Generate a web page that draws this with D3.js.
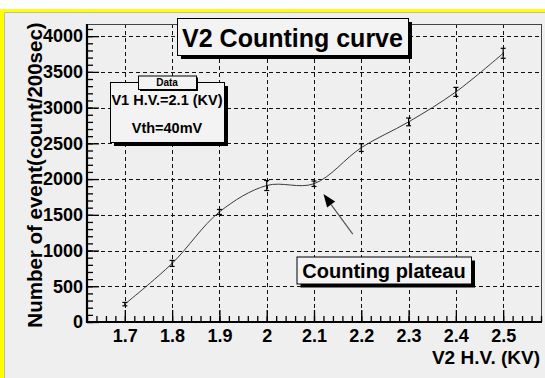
<!DOCTYPE html>
<html>
<head>
<meta charset="utf-8">
<script src="https://cdn.jsdelivr.net/npm/d3@7"></script>
<style>
  html, body { margin: 0; padding: 0; background: #ffffff; }
  svg { display: block; }
  text { font-family: "Liberation Sans", Arial, Helvetica, sans-serif; font-weight: bold; fill: #000; }
</style>
</head>
<body>
<script>
// V2 high voltage (kV) and counts measured over 200 s
const voltages = [1.7, 1.8, 1.9, 2.0, 2.1, 2.2, 2.3, 2.4, 2.5];
const counts   = [250, 820, 1540, 1910, 1935, 2440, 2800, 3220, 3760];
const errors   = [24, 42, 35, 70, 38, 54, 54, 63, 70];

const xTicks = [1.7, 1.8, 1.9, 2.0, 2.1, 2.2, 2.3, 2.4, 2.5];
const xTickLabels = ["1.7", "1.8", "1.9", "2", "2.1", "2.2", "2.3", "2.4", "2.5"];
const yTicks = [0, 500, 1000, 1500, 2000, 2500, 3000, 3500, 4000];

const titleText = "V2 Counting curve";
const xTitle = "V2 H.V. (KV)";
const yTitle = "Number of event(count/200sec)";
const paveHeader = "Data";
const paveLines = ["V1 H.V.=2.1 (KV)", "Vth=40mV"];
const noteText = "Counting plateau";
// arrow from the note towards the plateau, in data units [x, y]
const arrowFrom = [2.182, 1230];
const arrowTo = [2.12, 1790];

const W = 545, H = 378;
const frame = { left: 87, right: 541, top: 24, bottom: 322 };

const svg = d3.select("body").append("svg").attr("width", W).attr("height", H);

// canvas background with yellow border strip
svg.append("rect").attr("width", W).attr("height", H).attr("fill", "#ffffff");
svg.append("rect").attr("x", 0).attr("y", 9).attr("width", W).attr("height", H - 9).attr("fill", "#efefef");
svg.append("rect").attr("x", 0).attr("y", 9).attr("width", W).attr("height", 3.5).attr("fill", "#ffff00");
svg.append("rect").attr("x", 0).attr("y", 9).attr("width", 4).attr("height", H - 9).attr("fill", "#ffff00");
svg.append("line").attr("x1", 4.5).attr("x2", 4.5).attr("y1", 12.5).attr("y2", H).attr("stroke", "#bbb");
svg.append("line").attr("x1", 4.5).attr("x2", W).attr("y1", 12.5).attr("y2", 12.5).attr("stroke", "#bbb");

const x = d3.scaleLinear().domain([1.62, 2.58]).range([frame.left, frame.right]);
const y = d3.scaleLinear().domain([0, 4170]).range([frame.bottom, frame.top]);

// dashed grid
const grid = svg.append("g").attr("stroke", "#111").attr("stroke-width", 1).attr("stroke-dasharray", "4,3");
grid.selectAll(".gx").data(xTicks).join("line")
  .attr("x1", d => Math.round(x(d)) + 0.5).attr("x2", d => Math.round(x(d)) + 0.5)
  .attr("y1", frame.top).attr("y2", frame.bottom);
grid.selectAll(".gy").data(yTicks.filter(d => d > 0)).join("line")
  .attr("x1", frame.left).attr("x2", frame.right)
  .attr("y1", d => Math.round(y(d)) + 0.5).attr("y2", d => Math.round(y(d)) + 0.5);

// thin frame on top and right
svg.append("line").attr("x1", frame.left).attr("x2", frame.right + 0.5)
  .attr("y1", frame.top + 0.5).attr("y2", frame.top + 0.5).attr("stroke", "#444");
svg.append("line").attr("x1", frame.right + 0.5).attr("x2", frame.right + 0.5)
  .attr("y1", frame.top).attr("y2", frame.bottom).attr("stroke", "#444");

// y axis: major and minor ticks pointing inwards
const yMinor = d3.axisLeft(y).tickValues(d3.range(0, 4170, 100)).tickSizeInner(-6).tickSizeOuter(0).tickFormat("");
const yMajor = d3.axisLeft(y).tickValues(yTicks).tickSizeInner(-12).tickSizeOuter(0).tickPadding(4).tickFormat(d3.format("d"));
const gyMin = svg.append("g").attr("transform", `translate(${frame.left},0)`).call(yMinor);
const gy = svg.append("g").attr("transform", `translate(${frame.left},0)`).call(yMajor);
[gyMin, gy].forEach(g => {
  g.select(".domain").remove();
  g.selectAll("line").attr("stroke", "#000").attr("stroke-width", 1.3);
});
gy.selectAll("text").attr("font-size", 18).attr("font-family", "Liberation Sans, Arial, sans-serif").attr("font-weight", "bold");

// x axis: major and minor ticks pointing inwards
const xMinor = d3.axisBottom(x).tickValues(d3.range(1.62, 2.581, 0.02)).tickSizeInner(-6).tickSizeOuter(0).tickFormat("");
const xMajor = d3.axisBottom(x).tickValues(xTicks).tickSizeInner(-12).tickSizeOuter(0).tickPadding(7)
  .tickFormat((d, i) => xTickLabels[i]);
const gxMin = svg.append("g").attr("transform", `translate(0,${frame.bottom})`).call(xMinor);
const gx = svg.append("g").attr("transform", `translate(0,${frame.bottom})`).call(xMajor);
[gxMin, gx].forEach(g => {
  g.select(".domain").remove();
  g.selectAll("line").attr("stroke", "#000").attr("stroke-width", 1.3);
});
gx.selectAll("text").attr("font-size", 18).attr("font-family", "Liberation Sans, Arial, sans-serif").attr("font-weight", "bold");

// axis lines (thick)
svg.append("line").attr("x1", frame.left).attr("x2", frame.left).attr("y1", frame.top).attr("y2", frame.bottom + 1)
  .attr("stroke", "#000").attr("stroke-width", 2.2);
svg.append("line").attr("x1", frame.left - 1).attr("x2", frame.right + 1).attr("y1", frame.bottom).attr("y2", frame.bottom)
  .attr("stroke", "#000").attr("stroke-width", 2.2);

// smooth curve through the measurements
const pts = voltages.map((v, i) => ({ v, c: counts[i], e: errors[i] }));
svg.append("path").datum(pts)
  .attr("fill", "none").attr("stroke", "#3a3a3a").attr("stroke-width", 1)
  .attr("d", d3.line().x(d => x(d.v)).y(d => y(d.c)).curve(d3.curveCatmullRom.alpha(0.5)));

// error bars
const eb = svg.append("g").attr("stroke", "#000").attr("stroke-width", 1.2);
eb.selectAll(".v").data(pts).join("line")
  .attr("x1", d => x(d.v)).attr("x2", d => x(d.v))
  .attr("y1", d => y(d.c - d.e)).attr("y2", d => y(d.c + d.e));
eb.selectAll(".t").data(pts).join("line")
  .attr("x1", d => x(d.v) - 2.5).attr("x2", d => x(d.v) + 2.5)
  .attr("y1", d => y(d.c + d.e)).attr("y2", d => y(d.c + d.e));
eb.selectAll(".b").data(pts).join("line")
  .attr("x1", d => x(d.v) - 2.5).attr("x2", d => x(d.v) + 2.5)
  .attr("y1", d => y(d.c - d.e)).attr("y2", d => y(d.c - d.e));

// box with drop shadow
function shadowBox(x0, y0, w, h, off) {
  svg.append("rect").attr("x", x0 + off).attr("y", y0 + off).attr("width", w).attr("height", h).attr("fill", "#000");
  svg.append("rect").attr("x", x0 + 0.5).attr("y", y0 + 0.5).attr("width", w).attr("height", h)
    .attr("fill", "#f3f3f3").attr("stroke", "#000").attr("stroke-width", 1);
}

// title
shadowBox(177, 18, 231, 37, 4);
svg.append("text").attr("x", 292.5).attr("y", 46.5).attr("text-anchor", "middle")
  .attr("font-size", 25).text(titleText);

// parameter pave
shadowBox(110, 82, 114, 60, 4);
svg.append("text").attr("x", 167).attr("y", 105).attr("text-anchor", "middle")
  .attr("font-size", 14.5).text(paveLines[0]);
svg.append("text").attr("x", 167).attr("y", 132.5).attr("text-anchor", "middle")
  .attr("font-size", 14.5).text(paveLines[1]);
shadowBox(138, 75.5, 58, 13.5, 2);
svg.append("text").attr("x", 167).attr("y", 86).attr("text-anchor", "middle")
  .attr("font-size", 10).text(paveHeader);

// annotation arrow
const ax0 = x(arrowFrom[0]), ay0 = y(arrowFrom[1]);
const ax1 = x(arrowTo[0]), ay1 = y(arrowTo[1]);
const ang = Math.atan2(ay1 - ay0, ax1 - ax0);
const hl = 13, hw = 5;
const bx = ax1 - hl * Math.cos(ang), by = ay1 - hl * Math.sin(ang);
svg.append("line").attr("x1", ax0).attr("y1", ay0).attr("x2", bx).attr("y2", by)
  .attr("stroke", "#555").attr("stroke-width", 1.2);
svg.append("path")
  .attr("d", `M${ax1},${ay1}L${bx + hw * Math.sin(ang)},${by - hw * Math.cos(ang)}L${bx - hw * Math.sin(ang)},${by + hw * Math.cos(ang)}Z`)
  .attr("fill", "#000");

// note box
shadowBox(296.5, 256.5, 174.5, 27, 4);
svg.append("text").attr("x", 384).attr("y", 277.5).attr("text-anchor", "middle")
  .attr("font-size", 20).text(noteText);

// axis titles
svg.append("text").attr("x", 540).attr("y", 364).attr("text-anchor", "end")
  .attr("font-size", 19).text(xTitle);
svg.append("text").attr("transform", "translate(41.5,175) rotate(-90)").attr("text-anchor", "middle")
  .attr("font-size", 20.5).text(yTitle);
</script>
</body>
</html>
